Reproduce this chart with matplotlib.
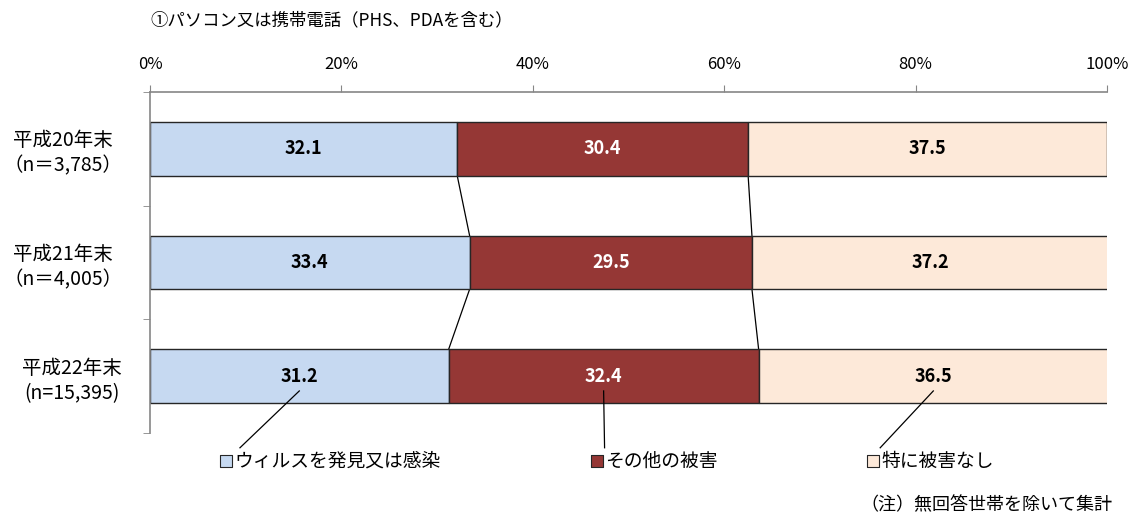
import matplotlib
matplotlib.use("Agg")
import matplotlib.pyplot as plt
import numpy as np

plt.rcParams["font.family"] = ["Noto Sans CJK JP", "DejaVu Sans"]

TITLE = "①パソコン又は携帯電話（PHS、PDAを含む）"
NOTE = "（注）無回答世帯を除いて集計"
categories = ["平成20年末\n（n＝3,785）", "平成21年末\n（n＝4,005）", "平成22年末\n(n=15,395)"]
series_names = ["ウィルスを発見又は感染", "その他の被害", "特に被害なし"]
virus = [32.1, 33.4, 31.2]
other = [30.4, 29.5, 32.4]
none_ = [37.5, 37.2, 36.5]
x_ticks = [0, 20, 40, 60, 80, 100]

colors = ["#C6D9F1", "#953735", "#FDE9D9"]
text_colors = ["black", "white", "black"]
series = [virus, other, none_]

fig = plt.figure(figsize=(11.37, 5.15), dpi=100)
ax = fig.add_axes([150 / 1137, 1 - 433 / 515, 957 / 1137, 341 / 515])

y = np.arange(len(categories))
h = 0.47
left = np.zeros(len(categories))
for vals, col, tc in zip(series, colors, text_colors):
    vals = np.array(vals)
    ax.barh(y, vals, left=left, height=h, color=col, edgecolor="#262626", linewidth=1.0, zorder=2)
    for yi, l, v in zip(y, left, vals):
        ax.text(l + v / 2, yi, f"{v:.1f}", ha="center", va="center", color=tc,
                fontsize=13, fontweight="bold", zorder=3)
    left = left + vals

# series lines between bars
cum = np.cumsum(np.array(series), axis=0)[:-1]
for row in cum:
    for i in range(len(categories) - 1):
        ax.plot([row[i], row[i + 1]], [y[i] + h / 2, y[i + 1] - h / 2], color="black", lw=0.9, zorder=1)

ax.set_xlim(0, 100)
ax.set_ylim(2.5, -0.5)
ax.xaxis.tick_top()
ax.set_xticks(x_ticks)
ax.set_xticklabels([f"{t}%" for t in x_ticks])
ax.tick_params(axis="x", direction="out", length=5, color="#868686", pad=9, labelsize=12)
ax.set_yticks(y)
ax.set_yticklabels(categories, multialignment="center", fontsize=14, linespacing=1.25)
ax.tick_params(axis="y", which="major", length=0, pad=20)
ax.set_yticks([-0.5, 0.5, 1.5, 2.5], minor=True)
ax.tick_params(axis="y", which="minor", length=5, color="#868686")
for s in ["right", "bottom"]:
    ax.spines[s].set_visible(False)
for s in ["top", "left"]:
    ax.spines[s].set_color("#868686")
    ax.spines[s].set_linewidth(1.2)

# legend placed under the bars with leader lines
leg_x = [7.9, 46.7, 75.5]
leg_y = 2.75
centers = np.cumsum(np.array(series), axis=0)[:, -1] - np.array(series)[:, -1] / 2
ends = [9.4, 47.5, 76.3]
for lx, cx, ex, col, name in zip(leg_x, centers, ends, colors, series_names):
    ax.plot([cx, ex], [2.13, 2.63], color="black", lw=0.9, clip_on=False)
    ax.scatter([lx], [leg_y], marker="s", s=70, color=col, edgecolor="#262626", linewidth=0.8, clip_on=False)
    ax.text(lx + 0.9, leg_y, name, ha="left", va="center", fontsize=13.5)

fig.text(150 / 1137, 1 - 20 / 515, TITLE, ha="left", va="center", fontsize=12.5)
fig.text(1112 / 1137, 1 - 505 / 515, NOTE, ha="right", va="center", fontsize=13)

fig.savefig("out.png", dpi=100)
